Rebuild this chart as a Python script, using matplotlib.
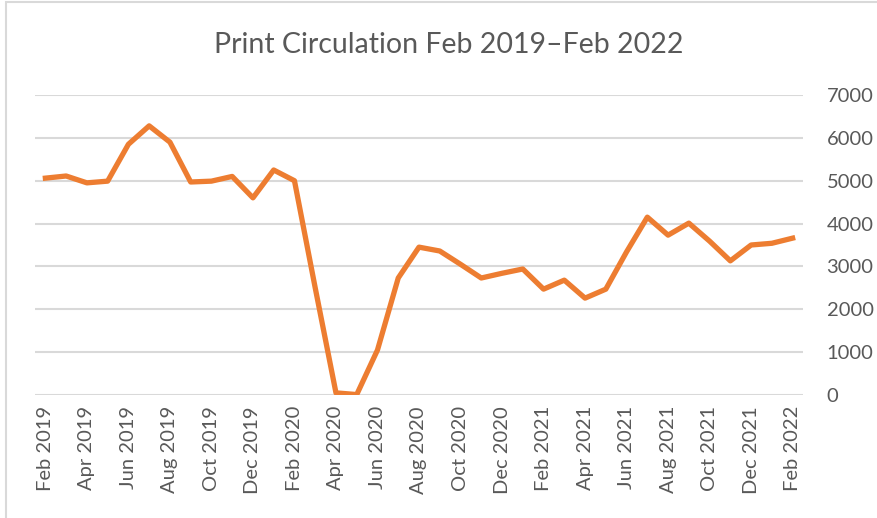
import numpy as np
import matplotlib
matplotlib.use('Agg')
import matplotlib.pyplot as plt
from matplotlib.patches import Rectangle

# monthly print circulation, Feb 2019 .. Feb 2022
months = ['Feb 2019', 'Mar 2019', 'Apr 2019', 'May 2019', 'Jun 2019', 'Jul 2019',
          'Aug 2019', 'Sep 2019', 'Oct 2019', 'Nov 2019', 'Dec 2019', 'Jan 2020',
          'Feb 2020', 'Mar 2020', 'Apr 2020', 'May 2020', 'Jun 2020', 'Jul 2020',
          'Aug 2020', 'Sep 2020', 'Oct 2020', 'Nov 2020', 'Dec 2020', 'Jan 2021',
          'Feb 2021', 'Mar 2021', 'Apr 2021', 'May 2021', 'Jun 2021', 'Jul 2021',
          'Aug 2021', 'Sep 2021', 'Oct 2021', 'Nov 2021', 'Dec 2021', 'Jan 2022',
          'Feb 2022']
circulation = [5060, 5110, 4950, 4990, 5850, 6280,
               5900, 4970, 4990, 5100, 4600, 5250,
               5000, 2500, 50, 10, 1050, 2730,
               3450, 3360, 3050, 2730, 2840, 2940,
               2470, 2680, 2260, 2470, 3340, 4150,
               3730, 4010, 3590, 3130, 3500, 3540,
               3660]
yticks = [0, 1000, 2000, 3000, 4000, 5000, 6000, 7000]

W, H = 878, 518
fig = plt.figure(figsize=(W / 100, H / 100), dpi=100)
plt.rcParams['font.family'] = ['Lato', 'DejaVu Sans']

# chart area frame
fig.patches.append(Rectangle((6 / W, -0.01), 1.0, (H - 2) / H + 0.01, transform=fig.transFigure,
                             fill=False, edgecolor='#D9D9D9', linewidth=1.5))

ax = fig.add_axes([35 / W, 1 - 395 / H, (803 - 35) / W, (395 - 95) / H])
x = np.arange(len(months))
ax.plot(x, circulation, color='#ED7D31', linewidth=3.8, solid_joinstyle='round', zorder=3)

ax.set_ylim(0, 7000)
ax.set_xlim(-0.5, len(months) - 0.5)
ax.set_yticks(yticks)
ax.set_yticklabels([str(v) for v in yticks])
ax.yaxis.tick_right()
ax.set_xticks(x[::2])
ax.set_xticklabels(months[::2], rotation=90)
ax.tick_params(axis='both', length=0, labelcolor='#595959', labelsize=14.5)
ax.tick_params(axis='y', pad=17)
ax.tick_params(axis='x', pad=8)
ax.grid(axis='y', color='#D9D9D9', linewidth=1.5)
ax.set_axisbelow(True)
for s in ax.spines.values():
    s.set_visible(False)

fig.text(449 / W, 1 - 45 / H, 'Print Circulation Feb 2019\u2013Feb 2022',
         ha='center', va='center', fontsize=20.5, color='#595959')

fig.savefig('out.png', dpi=100)
